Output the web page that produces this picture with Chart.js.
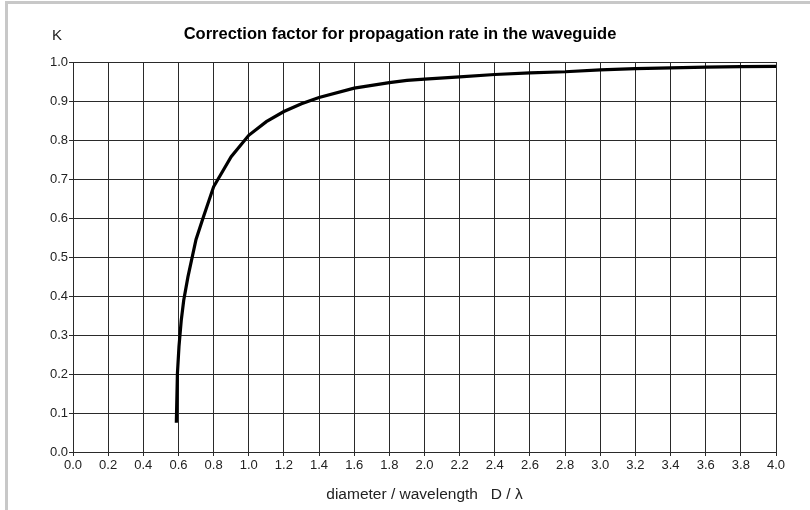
<!DOCTYPE html>
<html>
<head>
<meta charset="utf-8">
<script src="https://cdn.jsdelivr.net/npm/chart.js@4.4.0/dist/chart.umd.min.js"></script>
<style>
    body { margin: 0; background: #ffffff; }
    #frame {
        position: absolute; left: 5px; top: 1px; width: 805px; height: 509px;
        box-sizing: border-box;
        border-top: 3px solid #c8c8c8;
        border-left: 3px solid #c8c8c8;
    }
    #wrap { position: absolute; left: 0; top: 0; width: 810px; height: 510px; }
</style>
</head>
<body>
<div id="frame"></div>
<div id="wrap"><canvas id="kChart"></canvas></div>
<script>
// Valores (D / lambda -> K)
const diameterRatio = [0.588, 0.594, 0.603, 0.616, 0.63, 0.654, 0.70, 0.74, 0.80, 0.90, 1.0, 1.1, 1.2, 1.3, 1.4, 1.6, 1.8, 1.9, 2.0, 2.2, 2.4, 2.6, 2.8, 3.0, 3.2, 3.4, 3.6, 3.8, 4.0];
const kFactor = [0.075, 0.20, 0.27, 0.338, 0.389, 0.449, 0.545, 0.60, 0.68, 0.757, 0.812, 0.847, 0.873, 0.893, 0.909, 0.933, 0.947, 0.953, 0.956, 0.962, 0.968, 0.972, 0.975, 0.980, 0.983, 0.985, 0.987, 0.988, 0.989];

const chartTitle = 'Correction factor for propagation rate in the waveguide';
const xAxisTitle = 'diameter / wavelength   D / \u03bb';
const yAxisLabel = 'K';

const gridColor = '#2a2a2a';
const fontFamily = '"Liberation Sans", Arial, sans-serif';

// Etiqueta "K" arriba del eje Y
const yLabelPlugin = {
    id: 'yLabel',
    afterDraw(chart) {
        const ctx = chart.ctx;
        ctx.save();
        ctx.fillStyle = '#222';
        ctx.font = '15px ' + fontFamily;
        ctx.textAlign = 'center';
        ctx.textBaseline = 'middle';
        ctx.fillText(yAxisLabel, 57, 36);
        ctx.restore();
    }
};

const ctx = document.getElementById('kChart').getContext('2d');

new Chart(ctx, {
    type: 'line',
    data: {
        datasets: [{
            data: diameterRatio.map((x, i) => ({ x: x, y: kFactor[i] })),
            borderColor: '#000000',
            borderWidth: 3.2,
            pointRadius: 0,
            tension: 0,
            fill: false
        }]
    },
    options: {
        responsive: true,
        maintainAspectRatio: false,
        animation: false,
        layout: {
            padding: { left: 24, right: 34, top: 0, bottom: 0 }
        },
        plugins: {
            legend: { display: false },
            tooltip: { enabled: false },
            title: {
                display: true,
                text: chartTitle,
                color: '#000',
                font: { family: fontFamily, size: 16.5, weight: 'bold', lineHeight: 1.2 },
                padding: { top: 25, bottom: 17.2 }
            }
        },
        scales: {
            x: {
                type: 'linear',
                min: 0,
                max: 4,
                afterFit: function(scale) { scale.height = 58; },
                grid: { color: gridColor, lineWidth: 1, tickLength: 4 },
                border: { color: gridColor, width: 1 },
                ticks: {
                    stepSize: 0.2,
                    padding: 2,
                    color: '#222',
                    font: { family: fontFamily, size: 13 },
                    callback: function(value) { return value.toFixed(1); }
                },
                title: {
                    display: true,
                    text: xAxisTitle,
                    color: '#222',
                    font: { family: fontFamily, size: 15.5 },
                    padding: { top: 0, bottom: 6 }
                }
            },
            y: {
                min: 0,
                max: 1,
                afterFit: function(scale) { scale.width = 49; },
                grid: { color: gridColor, lineWidth: 1, tickLength: 4 },
                border: { color: gridColor, width: 1 },
                ticks: {
                    stepSize: 0.1,
                    padding: 1,
                    color: '#222',
                    font: { family: fontFamily, size: 13 },
                    callback: function(value) { return value.toFixed(1); }
                }
            }
        }
    },
    plugins: [yLabelPlugin]
});
</script>
</body>
</html>
